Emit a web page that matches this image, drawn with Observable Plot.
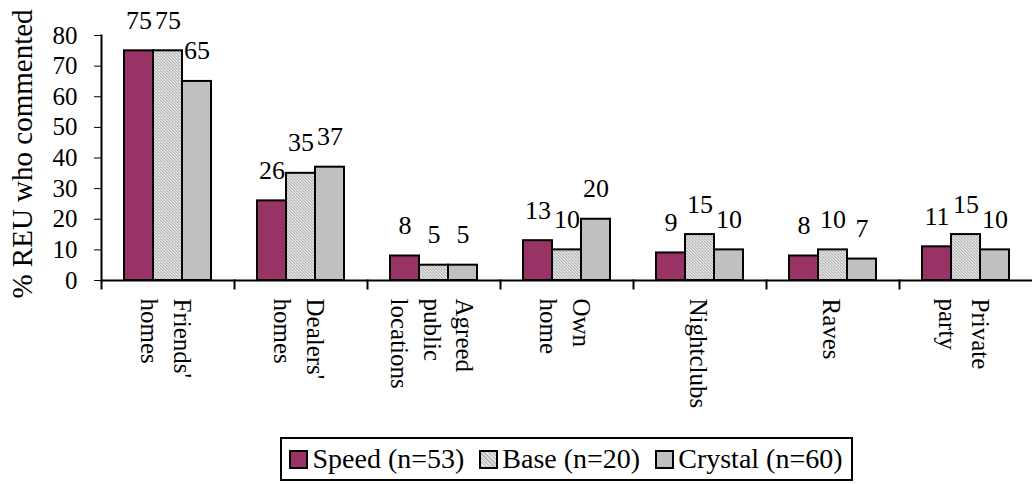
<!DOCTYPE html>
<html>
<head>
<meta charset="utf-8">
<script src="https://cdn.jsdelivr.net/npm/d3@7"></script>
<script src="https://cdn.jsdelivr.net/npm/@observablehq/plot@0.6"></script>
<style>
  html, body { margin: 0; padding: 0; background: #fff; }
  body { width: 1032px; height: 484px; overflow: hidden; font-family: "Liberation Serif", "Times New Roman", "DejaVu Serif", serif; color: #000; }
  #legendWrap { padding-left: 101px; display: flex; justify-content: center; margin-top: 5px; }
  #legend { border: 2px solid #000; display: flex; align-items: center; height: 40px; padding: 0 8px 0 7px; font-size: 28px; line-height: 1; font-family: "Liberation Serif", "Times New Roman", serif; }
  .item { display: flex; align-items: center; margin-right: 15px; }
  .item:last-child { margin-right: 0; }
  .sw { width: 15px; height: 15px; border: 2px solid #000; margin-right: 4px; display: inline-block; }
</style>
</head>
<body>
<svg width="0" height="0" style="position:absolute">
  <defs>
    <pattern id="basePattern" width="3" height="3" patternUnits="userSpaceOnUse">
      <rect width="3" height="3" fill="#d6d6d6"/>
      <rect x="0" y="0" width="1" height="1" fill="#b4b4b4"/>
      <rect x="1" y="1" width="1" height="1" fill="#b4b4b4"/>
      <rect x="2" y="2" width="1" height="1" fill="#b4b4b4"/>
      <rect x="2" y="0" width="1" height="1" fill="#e8e8e8"/>
      <rect x="0" y="1" width="1" height="1" fill="#e8e8e8"/>
    </pattern>
  </defs>
</svg>
<div id="chart"></div>
<div id="legendWrap"><div id="legend"></div></div>
<script>
const categories = ["Friends' homes", "Dealers' homes", "Agreed public locations", "Own home", "Nightclubs", "Raves", "Private party"];
const categoryLabels = ["Friends'\nhomes", "Dealers'\nhomes", "Agreed\npublic\nlocations", "Own\nhome", "Nightclubs", "Raves", "Private\nparty"];
const series = ["Speed (n=53)", "Base (n=20)", "Crystal (n=60)"];
const speed = [75, 26, 8, 13, 9, 8, 11];
const base = [75, 35, 5, 10, 15, 10, 15];
const crystal = [65, 37, 5, 20, 10, 7, 10];
const yTicks = [0, 10, 20, 30, 40, 50, 60, 70, 80];
const yLabel = "% REU who commented";
const seriesColors = ["#993366", "url(#basePattern)", "#c0c0c0"];

const FONT = "'Liberation Serif', 'Times New Roman', serif";

const seriesValues = [speed, base, crystal];
const rows = [];
categories.forEach((cat, i) => {
  series.forEach((s, j) => rows.push({cat, series: s, value: seriesValues[j][i]}));
});
const labelRows = categories.map((cat, i) => ({cat, label: categoryLabels[i]}));

const chart = Plot.plot({
  width: 1032,
  height: 432,
  marginLeft: 101,
  marginRight: 0,
  marginTop: 35,
  marginBottom: 152,
  style: {fontFamily: FONT, background: "#fff", color: "#000", overflow: "visible"},
  fx: {domain: categories, paddingInner: 0, paddingOuter: 0, axis: null},
  x: {domain: series, paddingInner: 0, paddingOuter: 0.75, axis: null},
  y: {domain: [0, 80], nice: false, axis: null},
  color: {domain: series, range: seriesColors},
  marks: [
    Plot.barY(rows, {fx: "cat", x: "series", y: "value", fill: "series", stroke: "#000", strokeWidth: 2}),
    Plot.text(rows, {fx: "cat", x: "series", y: "value", text: d => String(d.value), dy: -22, lineAnchor: "bottom", fontSize: 26, fontFamily: FONT}),
    Plot.ruleY([0], {stroke: "#000", strokeWidth: 2}),
    Plot.frame({anchor: "left", insetTop: 245, insetBottom: -8, stroke: "#000", strokeWidth: 2}),
    Plot.frame({anchor: "left", facetAnchor: "left", stroke: "#000", strokeWidth: 2}),
    Plot.axisY({ticks: yTicks, tickSize: 7, tickPadding: 17, tickFormat: d => String(d), fontSize: 25, fontFamily: FONT,
      label: null, facetAnchor: "left"}),
    Plot.text([yLabel], {frameAnchor: "left", rotate: -90, dx: -79, dy: -4, textAnchor: "middle", lineAnchor: "middle",
      fontSize: 29, fontFamily: FONT, facetAnchor: "left"}),
    Plot.text(labelRows, {fx: "cat", text: "label", frameAnchor: "bottom", rotate: 90, textAnchor: "start",
      lineAnchor: "middle", dy: 18, lineHeight: 1.3, fontSize: 25, fontFamily: FONT})
  ]
});
document.getElementById("chart").appendChild(chart);

const legend = document.getElementById("legend");
series.forEach((s, j) => {
  const item = document.createElement("div");
  item.className = "item";
  const sw = document.createElement("span");
  sw.className = "sw";
  if (j === 1) {
    sw.style.background = "repeating-linear-gradient(45deg, #b4b4b4 0 1px, #d6d6d6 1px 2px, #e8e8e8 2px 3px)";
  } else {
    sw.style.background = seriesColors[j];
  }
  const t = document.createElement("span");
  t.textContent = s;
  item.appendChild(sw);
  item.appendChild(t);
  legend.appendChild(item);
});
</script>
</body>
</html>
